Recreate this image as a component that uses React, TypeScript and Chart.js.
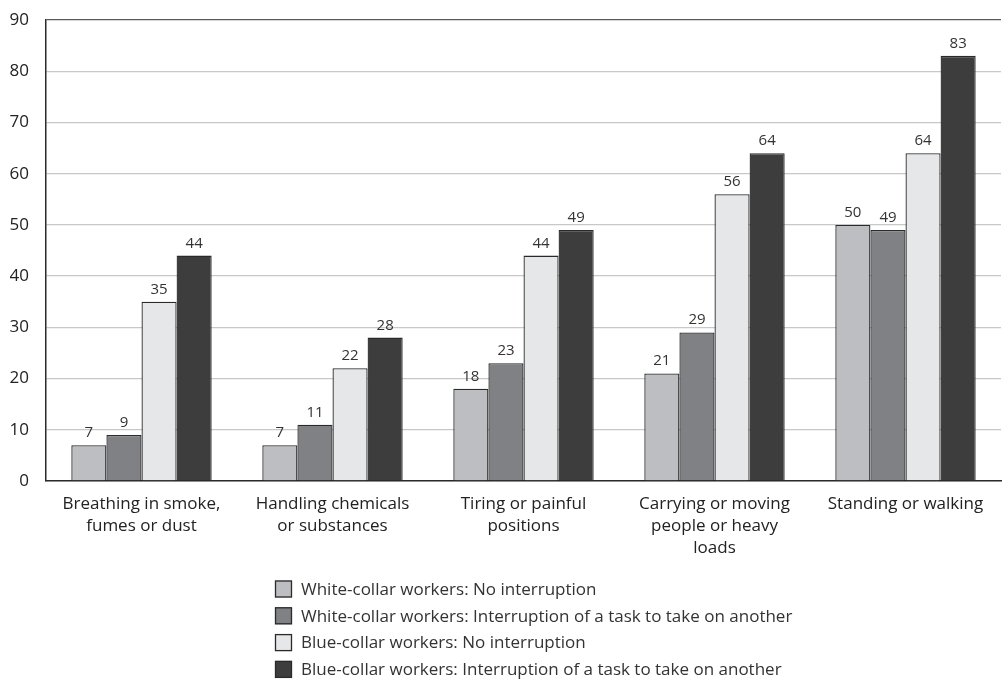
import React, { useEffect, useRef } from "react";
import { Chart, registerables } from "chart.js";

Chart.register(...registerables);

const categories: string[][] = [
  ["Breathing in smoke,", "fumes or dust"],
  ["Handling chemicals", "or substances"],
  ["Tiring or painful", "positions"],
  ["Carrying or moving", "people or heavy", "loads"],
  ["Standing or walking"],
];

const seriesNames = [
  "White-collar workers: No interruption",
  "White-collar workers: Interruption of a task to take on another",
  "Blue-collar workers: No interruption",
  "Blue-collar workers: Interruption of a task to take on another",
];

const whiteNoInterruption = [7, 7, 18, 21, 50];
const whiteInterruption = [9, 11, 23, 29, 49];
const blueNoInterruption = [35, 22, 44, 56, 64];
const blueInterruption = [44, 28, 49, 64, 83];

const seriesColors = ["#bdbec2", "#808184", "#e6e7e9", "#3d3d3d"];

const yTicks = [0, 10, 20, 30, 40, 50, 60, 70, 80, 90];

const FONT = "'Open Sans', 'Noto Sans', sans-serif";

// Writes each bar's value just above it
const valueLabels = {
  id: "valueLabels",
  afterDatasetsDraw(chart: any) {
    const ctx = chart.ctx;
    ctx.save();
    ctx.font = `15px ${FONT}`;
    ctx.fillStyle = "#333333";
    ctx.textAlign = "center";
    ctx.textBaseline = "alphabetic";
    chart.data.datasets.forEach((ds: any, i: number) => {
      const meta = chart.getDatasetMeta(i);
      meta.data.forEach((bar: any, j: number) => {
        ctx.fillText(String(ds.data[j]), bar.x, bar.y - 8);
      });
    });
    ctx.restore();
  },
};

// Stacked legend under the plot: one entry per line
const stackedLegend = {
  id: "stackedLegend",
  afterDraw(chart: any, _args: any, opts: any) {
    const ctx = chart.ctx;
    const box = opts.boxSize;
    ctx.save();
    ctx.font = `17px ${FONT}`;
    ctx.textBaseline = "middle";
    ctx.textAlign = "left";
    chart.data.datasets.forEach((ds: any, i: number) => {
      const y = opts.top + i * opts.lineHeight;
      ctx.fillStyle = ds.backgroundColor;
      ctx.fillRect(opts.left, y - box / 2, box, box);
      ctx.strokeStyle = "#2a2a2a";
      ctx.lineWidth = 1.3;
      ctx.strokeRect(opts.left + 0.5, y - box / 2 + 0.5, box - 1, box - 1);
      ctx.fillStyle = "#333333";
      ctx.fillText(ds.label, opts.left + box + 9, y + 1);
    });
    ctx.restore();
  },
};

export default function App() {
  const canvasRef = useRef<HTMLCanvasElement | null>(null);

  useEffect(() => {
    const values = [whiteNoInterruption, whiteInterruption, blueNoInterruption, blueInterruption];
    const chart = new Chart(canvasRef.current as HTMLCanvasElement, {
      type: "bar",
      data: {
        labels: categories,
        datasets: values.map((data, i) => ({
          label: seriesNames[i],
          data,
          backgroundColor: seriesColors[i],
          borderColor: "#2a2a2a",
          borderWidth: 1.3,
          categoryPercentage: 0.735,
          barPercentage: 1,
        })),
      },
      plugins: [valueLabels, stackedLegend],
      options: {
        animation: false,
        responsive: false,
        layout: { padding: { top: 20, right: 1, bottom: 120, left: 10 } },
        plugins: {
          legend: { display: false },
          tooltip: { enabled: false },
          stackedLegend: { left: 275, top: 589, lineHeight: 26.8, boxSize: 17 },
        } as any,
        scales: {
          x: {
            afterFit: (axis: any) => {
              axis.height = 80;
            },
            grid: { display: false, drawTicks: false },
            border: { display: true, color: "#2a2a2a", width: 1.5 },
            ticks: {
              color: "#222222",
              font: { family: FONT, size: 17, lineHeight: 1.3 },
              padding: 12,
              maxRotation: 0,
              autoSkip: false,
            },
          },
          y: {
            min: 0,
            max: 90,
            afterBuildTicks: (axis: any) => {
              axis.ticks = yTicks.map((v) => ({ value: v }));
            },
            afterFit: (axis: any) => {
              axis.width = 36;
              axis.paddingTop = 0;
              axis.paddingBottom = 0;
            },
            grid: {
              drawTicks: false,
              color: (c: any) => (c.tick && c.tick.value === 90 ? "#5a5a5a" : "#c8c8c8"),
              lineWidth: 1.3,
            },
            border: { display: true, color: "#2a2a2a", width: 1.5 },
            ticks: {
              color: "#222222",
              font: { family: FONT, size: 17 },
              padding: 17,
            },
          },
        },
      },
    });
    return () => chart.destroy();
  }, []);

  return (
    <div style={{ position: "fixed", left: 0, top: 0, width: 1002, height: 681, background: "#ffffff" }}>
      <canvas ref={canvasRef} width={1002} height={681} />
    </div>
  );
}
